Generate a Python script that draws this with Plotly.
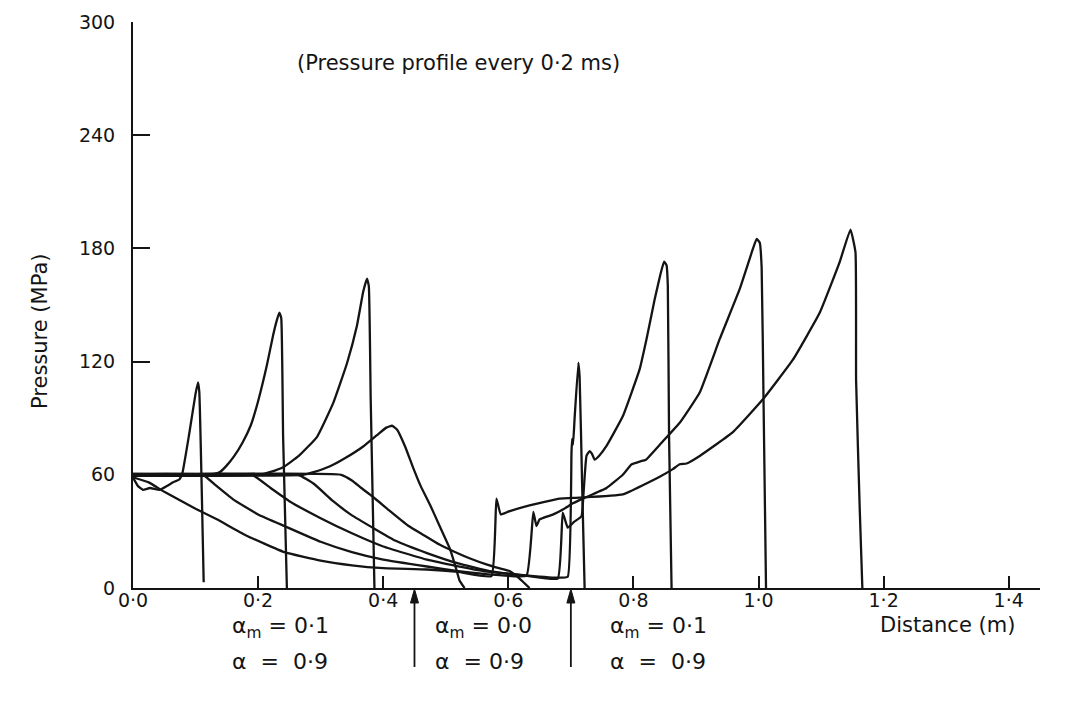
import plotly.graph_objects as go

# ---------------- data ----------------
x_tick_vals = [0.0, 0.2, 0.4, 0.6, 0.8, 1.0, 1.2, 1.4]
x_tick_text = ["0·0", "0·2", "0·4", "0·6", "0·8", "1·0", "1·2", "1·4"]
y_tick_vals = [0, 60, 120, 180, 240, 300]
y_tick_text = ["0", "60", "120", "180", "240", "300"]

# profile 1 (front ~0.11 m)
p1_x = [0.0, 0.008, 0.016, 0.027, 0.043, 0.054, 0.064, 0.074, 0.079, 0.09, 0.1, 0.104, 0.106, 0.113]
p1_y = [58.5, 54, 52, 53, 52, 54, 56, 57.5, 61, 82, 103, 109, 104, 3]

# profile 2 (front ~0.24 m)
p2_x = [0.0, 0.13, 0.139, 0.15, 0.162, 0.175, 0.188, 0.2, 0.214, 0.224, 0.23, 0.234, 0.237, 0.24, 0.246]
p2_y = [60.5, 60.5, 61.5, 65, 70, 77, 86, 99, 118, 134, 142, 146, 143, 80, 0]

# profile 3 (front ~0.38 m)
p3_x = [0.0, 0.203, 0.22, 0.24, 0.265, 0.294, 0.32, 0.342, 0.358, 0.368, 0.374, 0.377, 0.38, 0.386]
p3_y = [60, 60, 61.5, 64, 70, 80, 98, 119, 139, 157, 164, 160, 100, 0]

# profile 4 (hump ~0.41 m)
p4_x = [0.0, 0.272, 0.29, 0.315, 0.34, 0.368, 0.39, 0.405, 0.414, 0.422, 0.435, 0.447, 0.46,
        0.475, 0.49, 0.507, 0.515, 0.522, 0.53]
p4_y = [59.5, 60, 61.5, 64.5, 69, 75, 81, 85, 86, 84, 75, 64.5, 54, 44, 33, 20.5, 12, 4, 0]

# decaying branch (knee ~0.33 m)
p4b_x = [0.0, 0.333, 0.35, 0.365, 0.383, 0.41, 0.44, 0.465, 0.49, 0.512, 0.54, 0.565, 0.585,
         0.602, 0.618, 0.634]
p4b_y = [60, 60, 57, 53, 48.5, 41, 33, 28, 23, 19.5, 15.5, 12.5, 10.5, 9, 5, 0]

# profile 5 (transmitted front ~0.71 m)
p5_x = [0.0, 0.264, 0.29, 0.32, 0.35, 0.383, 0.42, 0.47, 0.52, 0.57, 0.62, 0.68, 0.695, 0.701,
        0.702, 0.7035, 0.706, 0.712, 0.714, 0.718, 0.722]
p5_y = [59.5, 60, 55, 46, 38.5, 32, 25, 18.5, 13, 9, 7, 5.5, 6, 72, 79, 76, 90, 119.5, 112, 55, 0]

# profile 6 (front ~0.85 m)
p6_x = [0.0, 0.19, 0.22, 0.25, 0.3, 0.35, 0.4, 0.47, 0.52, 0.57, 0.63, 0.679, 0.687, 0.695,
        0.705, 0.717, 0.72, 0.725, 0.73, 0.734, 0.738, 0.745, 0.757, 0.783, 0.81, 0.821, 0.834,
        0.843, 0.849, 0.853, 0.855, 0.857, 0.861]
p6_y = [60, 60, 53, 46, 37, 29, 22, 15, 11.5, 8.5, 6.5, 5, 40, 32, 35, 38, 49, 70, 72.6, 71,
        68, 70, 75.3, 91, 116, 132, 153, 166, 173, 171, 160, 80, 0]

# profile 7 (front ~1.0 m)
p7_x = [0.0, 0.112, 0.13, 0.16, 0.2, 0.243, 0.3, 0.35, 0.4, 0.47, 0.52, 0.58, 0.629, 0.64,
        0.645, 0.65, 0.672, 0.688, 0.704, 0.72, 0.757, 0.783, 0.797, 0.81, 0.82, 0.845, 0.875,
        0.906, 0.938, 0.97, 0.991, 0.997, 1.002, 1.005, 1.008, 1.012]
p7_y = [60.5, 60, 55, 47, 39, 32.7, 24.5, 19, 15, 11.4, 9, 7, 6.5, 40.3, 32.8, 36.4, 39, 41.7,
        45, 47.5, 53, 60, 65.5, 67, 68, 77, 88, 103.6, 132, 158.5, 179.7, 185, 183, 170, 100, 0]

# profile 8 (front ~1.15 m)
p8_x = [0.0, 0.025, 0.05, 0.1, 0.134, 0.18, 0.242, 0.3, 0.35, 0.4, 0.47, 0.52, 0.573, 0.581,
        0.588, 0.6, 0.634, 0.682, 0.714, 0.783, 0.842, 0.863, 0.874, 0.885, 0.906, 0.959, 1.007,
        1.055, 1.098, 1.13, 1.147, 1.155, 1.156, 1.162, 1.166]
p8_y = [58.7, 56, 51, 42, 36.4, 28, 19, 14.5, 12, 10.5, 9.8, 8.5, 6.3, 47.4, 39, 40.5, 43.8,
        47.4, 47.9, 49.6, 59, 63, 65.6, 66, 70, 82.6, 100, 121, 146, 173, 190, 178, 110, 40, 0]

section_bounds = [0.45, 0.70]

# ---------------- figure ----------------
INK = "#141414"
FONT = "DejaVu Sans"

curves = [
    ("0.2 ms", p1_x, p1_y),
    ("0.4 ms", p2_x, p2_y),
    ("0.6 ms", p3_x, p3_y),
    ("0.8 ms", p4_x, p4_y),
    ("0.8 ms b", p4b_x, p4b_y),
    ("1.0 ms", p5_x, p5_y),
    ("1.2 ms", p6_x, p6_y),
    ("1.4 ms", p7_x, p7_y),
    ("1.6 ms", p8_x, p8_y),
]

fig = go.Figure()
for name, xs, ys in curves:
    fig.add_trace(go.Scatter(x=xs, y=ys, mode="lines", name=name,
                             line=dict(color=INK, width=2.3, shape="spline", smoothing=0.35),
                             showlegend=False, hoverinfo="skip"))

fig.update_layout(
    width=1067, height=710,
    margin=dict(l=133, r=27, t=22, b=122),
    plot_bgcolor="white", paper_bgcolor="white",
    font=dict(family=FONT, color=INK, size=19),
    showlegend=False,
)
fig.update_xaxes(
    range=[0, 1.45], tickmode="array", tickvals=x_tick_vals, ticktext=x_tick_text,
    ticks="inside", ticklen=12, tickwidth=2, tickcolor=INK,
    showline=True, linecolor=INK, linewidth=2, showgrid=False, zeroline=False,
    tickfont=dict(family=FONT, size=19, color=INK), ticklabelstandoff=-6,
)
fig.update_yaxes(
    range=[0, 300], tickmode="array", tickvals=y_tick_vals, ticktext=y_tick_text,
    ticks="inside", ticklen=17, tickwidth=2, tickcolor=INK,
    showline=True, linecolor=INK, linewidth=2, showgrid=False, zeroline=False,
    tickfont=dict(family=FONT, size=19, color=INK), ticklabelstandoff=12,
)

PW, PH, L, T = 907.0, 566.0, 133.0, 22.0


def px(xpix):
    return (xpix - L) / PW


def py(ypix):
    return (T + PH - ypix) / PH


ann = []
ann.append(dict(text="(Pressure profile every 0·2 ms)", xref="paper", yref="paper",
                x=px(295), y=py(63), xanchor="left", yanchor="middle", showarrow=False,
                font=dict(family=FONT, size=21, color=INK)))
ann.append(dict(text="Pressure (MPa)", xref="paper", yref="paper", x=px(40), y=py(332),
                xanchor="center", yanchor="middle", textangle=-90, showarrow=False,
                font=dict(family=FONT, size=21, color=INK)))
ann.append(dict(text="Distance (m)", xref="paper", yref="paper", x=px(878), y=py(625),
                xanchor="left", yanchor="middle", showarrow=False,
                font=dict(family=FONT, size=21, color=INK)))

labels = [
    (230, "α<sub>m</sub> = 0·1", "α  =  0·9"),
    (433, "α<sub>m</sub> = 0·0", "α  = 0·9"),
    (608, "α<sub>m</sub> = 0·1", "α  =  0·9"),
]
for xl, t1, t2 in labels:
    ann.append(dict(text=t1, xref="paper", yref="paper", x=px(xl), y=py(627),
                    xanchor="left", yanchor="middle", showarrow=False,
                    font=dict(family=FONT, size=22, color=INK)))
    ann.append(dict(text=t2, xref="paper", yref="paper", x=px(xl), y=py(661),
                    xanchor="left", yanchor="middle", showarrow=False,
                    font=dict(family=FONT, size=22, color=INK)))
fig.update_layout(annotations=ann)

# section-boundary arrows below the axis
shapes = []
for xb in section_bounds:
    xp = px(L + xb * PW / 1.45)
    hw = 4.0 / PW
    shapes.append(dict(type="line", xref="paper", yref="paper", x0=xp, x1=xp,
                       y0=py(598), y1=py(667), line=dict(color=INK, width=1.8)))
    shapes.append(dict(type="path", xref="paper", yref="paper",
                       path=f"M {xp} {py(589)} L {xp - hw} {py(603)} L {xp + hw} {py(603)} Z",
                       fillcolor=INK, line=dict(color=INK, width=1)))
fig.update_layout(shapes=shapes)

fig.write_html("out.html")
